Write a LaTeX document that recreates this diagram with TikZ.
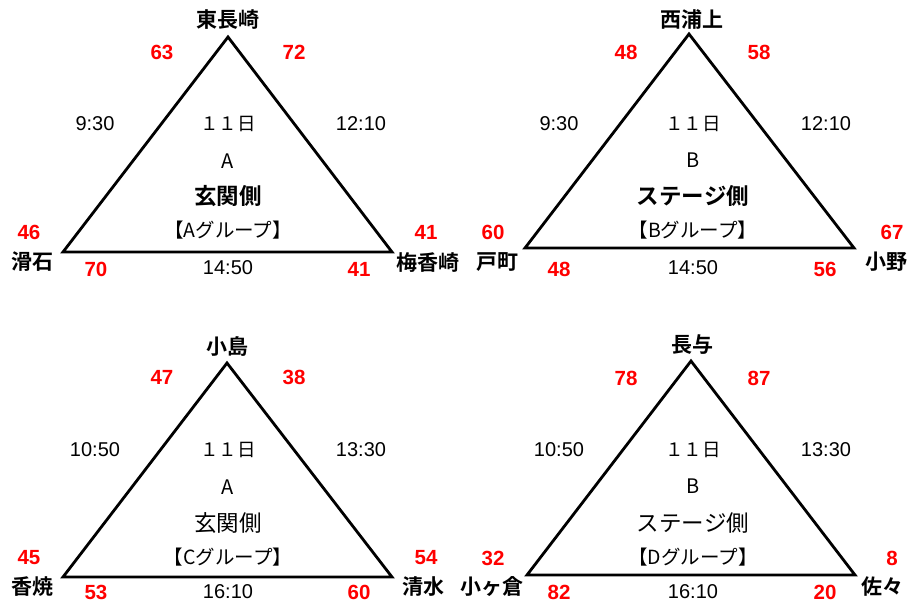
\documentclass[tikz,border=0pt]{standalone}
\usepackage{fontspec}
\setmainfont{Liberation Sans}
\newfontfamily\jp{Noto Sans CJK JP}
\newfontfamily\jpb{Noto Sans CJK JP Bold}
\begin{document}
\begin{tikzpicture}[x=1pt,y=-1pt,
  every node/.style={inner sep=0pt,anchor=center},
  tri/.style={draw=black,line width=2.8pt,line join=miter},
  stn/.style={font=\jpb\fontsize{21}{24}\selectfont},
  num/.style={text=red,font=\bfseries\fontsize{20.5}{24}\selectfont},
  tim/.style={font=\fontsize{20}{24}\selectfont},
  day/.style={font=\jp\fontsize{18.5}{22}\selectfont},
  let/.style={font=\jp\fontsize{20}{22}\selectfont},
  big/.style={font=\jpb\fontsize{22.5}{26}\selectfont},
  mid/.style={font=\jp\fontsize{22.5}{26}\selectfont},
  grp/.style={font=\jp\fontsize{19.5}{22}\selectfont}]
\useasboundingbox (0,0) rectangle (910,603);
\fill[white] (0,0) rectangle (910,603);
% ---------- Triangle 1
\coordinate (t1a) at (228,37);
\coordinate (t1l) at (63,252);
\coordinate (t1r) at (392,252);
\draw[tri] (t1a) -- (t1l) -- (t1r) -- cycle;
\node[stn] (s1a) at (228,20) {東長崎};
\node[stn] (s1l) at (32,262) {滑石};
\node[stn] (s1r) at (428,262) {梅香崎};
\node[num] (n1a) at (162,52) {63};
\node[num] (n1b) at (294,52) {72};
\node[num] (n1c) at (29,232) {46};
\node[num] (n1d) at (96,269) {70};
\node[num] (n1e) at (359,269) {41};
\node[num] (n1f) at (426,232) {41};
\node[tim] (m1a) at (95,124) {9:30};
\node[tim] (m1b) at (361,124) {12:10};
\node[tim] (m1c) at (228,268) {14:50};
\node[day] (d1) at (228,124) {１１日};
\node[let] (c1) at (228,161) {A};
\node[big] (b1) at (228,196) {玄関側};
\node[grp] (g1) at (228,230) {【Aグループ】};
% ---------- Triangle 2
\coordinate (t2a) at (689,34);
\coordinate (t2l) at (525,248);
\coordinate (t2r) at (854,248);
\draw[tri] (t2a) -- (t2l) -- (t2r) -- cycle;
\node[stn] (s2a) at (692,19) {西浦上};
\node[stn] (s2l) at (497,262) {戸町};
\node[stn] (s2r) at (886,262) {小野};
\node[num] (n2a) at (626,52) {48};
\node[num] (n2b) at (759,52) {58};
\node[num] (n2c) at (493,232) {60};
\node[num] (n2d) at (559,269) {48};
\node[num] (n2e) at (825,269) {56};
\node[num] (n2f) at (892,232) {67};
\node[tim] (m2a) at (559,124) {9:30};
\node[tim] (m2b) at (826,124) {12:10};
\node[tim] (m2c) at (693,268) {14:50};
\node[day] (d2) at (693,124) {１１日};
\node[let] (c2) at (693,160) {B};
\node[big] (b2) at (693,196) {ステージ側};
\node[grp] (g2) at (693,230) {【Bグループ】};
% ---------- Triangle 3
\coordinate (t3a) at (227,363);
\coordinate (t3l) at (63,577);
\coordinate (t3r) at (392,577);
\draw[tri] (t3a) -- (t3l) -- (t3r) -- cycle;
\node[stn] (s3a) at (227,346) {小島};
\node[stn] (s3l) at (32,587) {香焼};
\node[stn] (s3r) at (423,587) {清水};
\node[num] (n3a) at (162,377) {47};
\node[num] (n3b) at (294,377) {38};
\node[num] (n3c) at (29,558) {45};
\node[num] (n3d) at (96,592) {53};
\node[num] (n3e) at (359,592) {60};
\node[num] (n3f) at (426,558) {54};
\node[tim] (m3a) at (95,450) {10:50};
\node[tim] (m3b) at (361,450) {13:30};
\node[tim] (m3c) at (228,592) {16:10};
\node[day] (d3) at (228,450) {１１日};
\node[let] (c3) at (228,487) {A};
\node[mid] (b3) at (228,523) {玄関側};
\node[grp] (g3) at (228,557) {【Cグループ】};
% ---------- Triangle 4
\coordinate (t4a) at (691,361);
\coordinate (t4l) at (527,575);
\coordinate (t4r) at (855,575);
\draw[tri] (t4a) -- (t4l) -- (t4r) -- cycle;
\node[stn] (s4a) at (692,345) {長与};
\node[stn] (s4l) at (492,587) {小ヶ倉};
\node[stn] (s4r) at (882,587) {佐々};
\node[num] (n4a) at (626,378) {78};
\node[num] (n4b) at (759,378) {87};
\node[num] (n4c) at (493,558) {32};
\node[num] (n4d) at (559,592) {82};
\node[num] (n4e) at (825,592) {20};
\node[num] (n4f) at (892,558) {8};
\node[tim] (m4a) at (559,450) {10:50};
\node[tim] (m4b) at (826,450) {13:30};
\node[tim] (m4c) at (693,592) {16:10};
\node[day] (d4) at (693,450) {１１日};
\node[let] (c4) at (693,486) {B};
\node[mid] (b4) at (693,523) {ステージ側};
\node[grp] (g4) at (693,557) {【Dグループ】};
\end{tikzpicture}
\end{document}
